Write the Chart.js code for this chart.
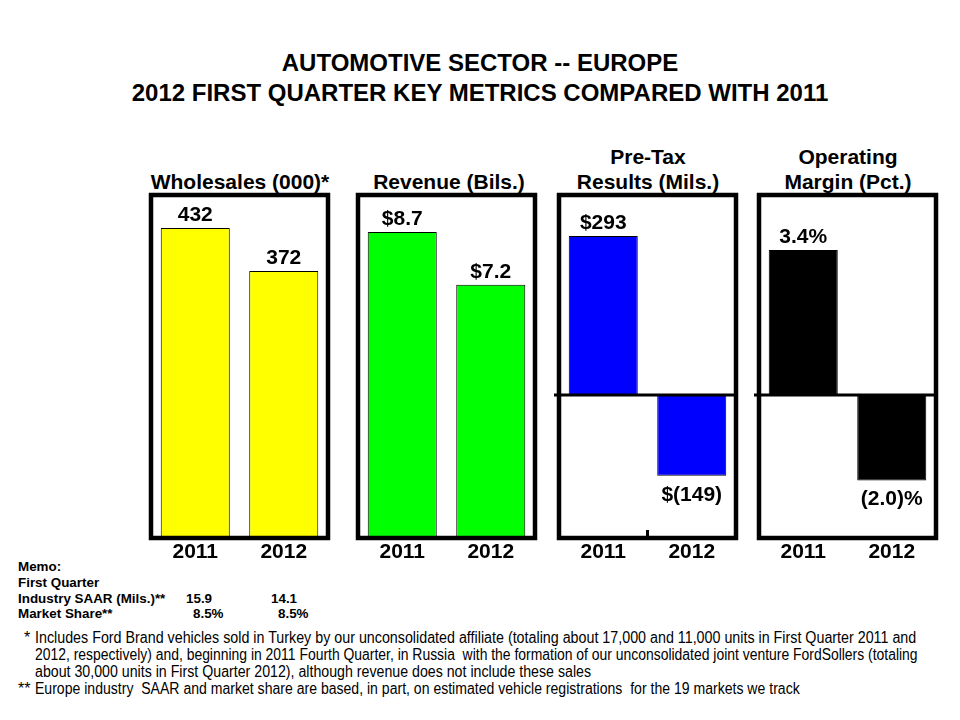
<!DOCTYPE html>
<html>
<head>
<meta charset="utf-8">
<script src="https://cdn.jsdelivr.net/npm/chart.js@4.4.1/dist/chart.umd.min.js"></script>
<style>
  body { margin: 0; background: #fff; font-family: "Liberation Sans", Arial, sans-serif; }
  #page { position: relative; width: 960px; height: 720px; overflow: hidden; }
  .t { position: absolute; color: #000; font-weight: bold; white-space: nowrap; }
  .title { left: 0; width: 960px; text-align: center; font-size: 24px; line-height: 30px; }
  .ptitle { font-size: 21px; text-align: center; width: 240px; line-height: 25px; }
  .memo { font-size: 13.4px; left: 18px; line-height: 16px; }
  .foot { position: absolute; font-family: "Liberation Sans Narrow", "Arial Narrow", "Liberation Sans", sans-serif; font-size: 16px; line-height: 17px; white-space: nowrap; color: #000; transform-origin: 0 0; }
  canvas { position: absolute; }
</style>
</head>
<body>
<div id="page">
  <div class="t title" style="top:48px">AUTOMOTIVE SECTOR -- EUROPE</div>
  <div class="t title" style="top:78px">2012 FIRST QUARTER KEY METRICS COMPARED WITH 2011</div>

  <div class="t ptitle" style="left:120px;top:169px">Wholesales (000)*</div>
  <div class="t ptitle" style="left:329px;top:169px">Revenue (Bils.)</div>
  <div class="t ptitle" style="left:528px;top:144px">Pre-Tax<br>Results (Mils.)</div>
  <div class="t ptitle" style="left:728px;top:144px">Operating<br>Margin (Pct.)</div>

  <canvas id="c1" width="189" height="379" style="left:145px;top:185px"></canvas>
  <canvas id="c2" width="189" height="379" style="left:352px;top:185px"></canvas>
  <canvas id="c3" width="189" height="379" style="left:553px;top:185px"></canvas>
  <canvas id="c4" width="189" height="379" style="left:753px;top:185px"></canvas>

  <div class="t memo" style="top:559px">Memo:</div>
  <div class="t memo" style="top:575px">First Quarter</div>
  <div class="t memo" style="top:591px">Industry SAAR (Mils.)**</div>
  <div class="t memo" style="top:591px;left:186px">15.9</div>
  <div class="t memo" style="top:591px;left:271px">14.1</div>
  <div class="t memo" style="top:606px">Market Share**</div>
  <div class="t memo" style="top:606px;left:193px">8.5%</div>
  <div class="t memo" style="top:606px;left:278px">8.5%</div>

  <div class="foot" style="left:24px;top:629px">*</div>
  <div class="foot fl" data-w="881" style="left:35px;top:629px">Includes Ford Brand vehicles sold in Turkey by our unconsolidated affiliate (totaling about 17,000 and 11,000 units in First Quarter 2011 and</div>
  <div class="foot fl" data-w="883" style="left:35px;top:646px">2012, respectively) and, beginning in 2011 Fourth Quarter, in Russia&nbsp; with the formation of our unconsolidated joint venture FordSollers (totaling</div>
  <div class="foot fl" data-w="556" style="left:35px;top:663px">about 30,000 units in First Quarter 2012), although revenue does not include these sales</div>
  <div class="foot" style="left:18px;top:680px">**</div>
  <div class="foot fl" data-w="765" style="left:35px;top:680px">Europe industry&nbsp; SAAR and market share are based, in part, on estimated vehicle registrations&nbsp; for the 19 markets we track</div>
</div>

<script>
// data
const years = ['2011', '2012'];
const wholesales = [432, 372];
const revenue = [8.7, 7.2];
const pretax = [293, -149];
const margin = [3.4, -2.0];

const wholesaleLabels = ['432', '372'];
const revenueLabels = ['$8.7', '$7.2'];
const pretaxLabels = ['$293', '$(149)'];
const marginLabels = ['3.4%', '(2.0)%'];

const boldFont = 'bold 21px "Liberation Sans", Arial, sans-serif';

// squeeze each footnote line to the width it has in the original
document.querySelectorAll('.fl').forEach(el => {
    const s = Number(el.dataset.w) / el.offsetWidth;
    el.style.transform = 'scaleX(' + s + ')';
});

// draws box, zero line and value labels
const panelPlugin = {
    id: 'panel',
    afterDatasetsDraw(chart, args, opts) {
        const ctx = chart.ctx;
        const area = chart.chartArea;
        const y = chart.scales.y;
        ctx.save();
        ctx.strokeStyle = '#000';
        if (opts.zeroLine) {
            const y0 = y.getPixelForValue(0);
            ctx.lineWidth = 3;
            ctx.beginPath();
            ctx.moveTo(area.left - 5, y0);
            ctx.lineTo(area.right, y0);
            ctx.stroke();
        }
        if (opts.midTick) {
            const xm = (area.left + area.right) / 2;
            ctx.lineWidth = 3;
            ctx.beginPath();
            ctx.moveTo(xm, area.bottom);
            ctx.lineTo(xm, area.bottom - 8);
            ctx.stroke();
        }
        ctx.lineWidth = 4.5;
        ctx.strokeRect(area.left, area.top, area.right - area.left, area.bottom - area.top);

        ctx.fillStyle = '#000';
        ctx.font = boldFont;
        ctx.textAlign = 'center';
        ctx.textBaseline = 'middle';
        const meta = chart.getDatasetMeta(0);
        const vals = chart.data.datasets[0].data;
        meta.data.forEach((bar, i) => {
            const lbl = opts.labels[i];
            if (vals[i] >= 0) {
                ctx.fillText(lbl, bar.x, bar.y - 13);
            } else {
                ctx.fillText(lbl, bar.x, bar.y + 19);
            }
        });
        ctx.restore();
    }
};

function makePanel(id, data, color, min, max, labels, zeroLine, midTick) {
    return new Chart(document.getElementById(id), {
        type: 'bar',
        data: {
            labels: years,
            datasets: [{
                data: data,
                backgroundColor: color,
                borderColor: '#000',
                borderWidth: 1,
                barPercentage: 0.78,
                categoryPercentage: 1.0
            }]
        },
        options: {
            responsive: false,
            animation: false,
            layout: { padding: { left: 6, right: 6, top: 10, bottom: 0 } },
            plugins: {
                legend: { display: false },
                tooltip: { enabled: false },
                panel: { labels: labels, zeroLine: zeroLine, midTick: midTick }
            },
            scales: {
                x: {
                    grid: { display: false, drawTicks: false },
                    border: { display: false },
                    ticks: { color: '#000', font: { family: '"Liberation Sans", Arial, sans-serif', size: 21, weight: 'bold' }, padding: 2 },
                    afterFit: (axis) => { axis.height = 26; }
                },
                y: {
                    display: false,
                    min: min,
                    max: max
                }
            }
        },
        plugins: [panelPlugin]
    });
}

makePanel('c1', wholesales, '#ffff00', 0, 478, wholesaleLabels, false, false);
makePanel('c2', revenue, '#00ff00', 0, 9.75, revenueLabels, false, false);
makePanel('c3', pretax, '#0000ff', -263.5, 368.5, pretaxLabels, true, true);
makePanel('c4', margin, '#000000', -3.35, 4.69, marginLabels, true, false);
</script>
</body>
</html>
